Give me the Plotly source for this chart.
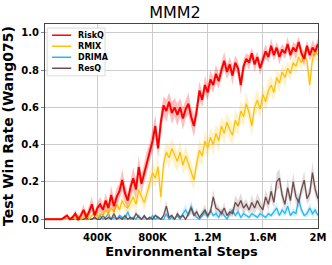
import plotly.graph_objects as go

steps = [20000 * (i + 1) for i in range(100)]

riskq = [0, 0, 0, 0, 0, 0, 0, 0.01, 0.02, 0.0,
         0.01, 0.03, 0.0, 0.02, 0.05, 0.01, 0.04, 0.08, 0.02, 0.06,
         0.08, 0.05, 0.1, 0.06, 0.13, 0.07, 0.12, 0.15, 0.21, 0.14,
         0.1, 0.17, 0.22, 0.16, 0.28, 0.19, 0.25, 0.31, 0.36, 0.42,
         0.5, 0.38, 0.52, 0.61, 0.58, 0.63, 0.57, 0.6, 0.56, 0.6,
         0.54, 0.59, 0.62, 0.55, 0.5, 0.58, 0.69, 0.64, 0.72, 0.68,
         0.75, 0.72, 0.78, 0.74, 0.8, 0.85, 0.79, 0.83, 0.77, 0.84,
         0.81, 0.72, 0.82, 0.86, 0.84, 0.89, 0.83, 0.87, 0.81, 0.86,
         0.9, 0.87, 0.93, 0.88, 0.92, 0.87, 0.91, 0.89, 0.94, 0.88,
         0.92, 0.9, 0.95, 0.89, 0.86, 0.93, 0.88, 0.92, 0.9, 0.94]
riskq_std = [0, 0, 0, 0, 0, 0, 0, 0.01, 0.01, 0.01,
             0.01, 0.02, 0.01, 0.02, 0.03, 0.02, 0.03, 0.04, 0.02, 0.03,
             0.04, 0.03, 0.04, 0.03, 0.05, 0.04, 0.05, 0.04, 0.06, 0.05,
             0.04, 0.05, 0.06, 0.05, 0.06, 0.05, 0.05, 0.06, 0.05, 0.06,
             0.06, 0.05, 0.06, 0.05, 0.06, 0.05, 0.06, 0.05, 0.06, 0.05,
             0.06, 0.05, 0.06, 0.05, 0.06, 0.05, 0.05, 0.04, 0.05, 0.04,
             0.05, 0.04, 0.05, 0.04, 0.04, 0.05, 0.04, 0.04, 0.05, 0.04,
             0.04, 0.05, 0.04, 0.03, 0.04, 0.03, 0.04, 0.03, 0.04, 0.03,
             0.04, 0.03, 0.04, 0.03, 0.03, 0.04, 0.03, 0.03, 0.04, 0.03,
             0.03, 0.04, 0.03, 0.03, 0.04, 0.03, 0.03, 0.04, 0.03, 0.03]

rmix = [0, 0, 0, 0, 0, 0, 0, 0, 0, 0,
        0.01, 0.0, 0.02, 0.0, 0.01, 0.03, 0.0, 0.02, 0.04, 0.01,
        0.03, 0.02, 0.05, 0.03, 0.06, 0.04, 0.08, 0.05, 0.1, 0.07,
        0.06, 0.09, 0.12, 0.08, 0.16, 0.12, 0.09, 0.14, 0.2, 0.25,
        0.22, 0.28, 0.12, 0.3, 0.36, 0.33, 0.38, 0.34, 0.31, 0.36,
        0.29, 0.34, 0.3, 0.25, 0.21, 0.3, 0.37, 0.34, 0.42, 0.38,
        0.44, 0.4, 0.46, 0.42, 0.5, 0.46, 0.52, 0.48, 0.45, 0.53,
        0.5, 0.58, 0.55, 0.62, 0.57, 0.5, 0.6, 0.64, 0.59, 0.67,
        0.63, 0.69, 0.72, 0.68, 0.76, 0.73, 0.79, 0.76, 0.81, 0.78,
        0.84, 0.82, 0.87, 0.84, 0.88, 0.85, 0.72, 0.86, 0.9, 0.88]
rmix_std = [0, 0, 0, 0, 0, 0, 0, 0, 0, 0,
            0.01, 0.0, 0.01, 0.0, 0.01, 0.02, 0.0, 0.01, 0.02, 0.01,
            0.02, 0.01, 0.03, 0.02, 0.03, 0.02, 0.04, 0.03, 0.04, 0.03,
            0.03, 0.04, 0.05, 0.04, 0.05, 0.04, 0.04, 0.05, 0.05, 0.06,
            0.05, 0.06, 0.05, 0.06, 0.05, 0.06, 0.05, 0.06, 0.05, 0.06,
            0.05, 0.06, 0.05, 0.06, 0.05, 0.05, 0.06, 0.05, 0.06, 0.05,
            0.05, 0.06, 0.05, 0.06, 0.05, 0.06, 0.05, 0.06, 0.05, 0.06,
            0.05, 0.06, 0.05, 0.06, 0.05, 0.06, 0.05, 0.06, 0.05, 0.05,
            0.05, 0.06, 0.05, 0.05, 0.04, 0.05, 0.04, 0.05, 0.04, 0.04,
            0.04, 0.05, 0.04, 0.04, 0.04, 0.05, 0.06, 0.04, 0.04, 0.04]

drima = [0, 0, 0, 0, 0, 0, 0, 0, 0, 0,
         0, 0, 0, 0, 0, 0, 0, 0, 0.01, 0.0,
         0.02, 0.0, 0.01, 0.03, 0.0, 0.01, 0.0, 0.02, 0.01, 0.0,
         0.04, 0.0, 0.01, 0.0, 0.02, 0.0, 0.01, 0.0, 0.0, 0.02,
         0.0, 0.01, 0.0, 0.0, 0.03, 0.0, 0.01, 0.0, 0.02, 0.0,
         0.03, 0.05, 0.02, 0.07, 0.03, 0.01, 0.0, 0.02, 0.04, 0.01,
         0.05, 0.02, 0.03, 0.01, 0.04, 0.02, 0.0, 0.03, 0.05, 0.02,
         0.04, 0.01, 0.03, 0.02, 0.01, 0.03, 0.02, 0.01, 0.03, 0.02,
         0.01, 0.03, 0.02, 0.04, 0.06, 0.02, 0.05, 0.03, 0.07, 0.02,
         0.04, 0.03, 0.11, 0.05, 0.02, 0.03, 0.06, 0.03, 0.05, 0.02]
drima_std = [0, 0, 0, 0, 0, 0, 0, 0, 0, 0,
             0, 0, 0, 0, 0, 0, 0, 0, 0.01, 0.0,
             0.01, 0.0, 0.01, 0.02, 0.0, 0.01, 0.0, 0.01, 0.01, 0.0,
             0.02, 0.0, 0.01, 0.0, 0.01, 0.0, 0.01, 0.0, 0.0, 0.01,
             0.0, 0.01, 0.0, 0.0, 0.02, 0.0, 0.01, 0.0, 0.01, 0.0,
             0.02, 0.03, 0.01, 0.03, 0.02, 0.01, 0.0, 0.01, 0.02, 0.01,
             0.02, 0.01, 0.02, 0.01, 0.02, 0.01, 0.0, 0.02, 0.02, 0.01,
             0.02, 0.01, 0.02, 0.01, 0.01, 0.02, 0.01, 0.01, 0.02, 0.01,
             0.01, 0.02, 0.01, 0.02, 0.03, 0.01, 0.02, 0.02, 0.03, 0.01,
             0.02, 0.02, 0.04, 0.02, 0.01, 0.02, 0.03, 0.02, 0.02, 0.01]

resq = [0, 0, 0, 0, 0, 0, 0, 0, 0, 0,
        0, 0, 0, 0, 0, 0.01, 0, 0, 0.01, 0,
        0.0, 0.02, 0.0, 0.01, 0.0, 0.03, 0.0, 0.01, 0.0, 0.02,
        0.0, 0.01, 0.0, 0.03, 0.01, 0.0, 0.02, 0.0, 0.01, 0.0,
        0.02, 0.01, 0.0, 0.02, 0.07, 0.01, 0.02, 0.0, 0.03, 0.01,
        0.02, 0.0, 0.03, 0.06, 0.02, 0.04, 0.01, 0.03, 0.05, 0.02,
        0.04, 0.12, 0.06, 0.05, 0.03, 0.06, 0.02, 0.04, 0.03, 0.09,
        0.07, 0.1, 0.06, 0.08, 0.05, 0.09, 0.06, 0.1, 0.07, 0.05,
        0.12, 0.08, 0.15, 0.09, 0.2, 0.22, 0.13, 0.08, 0.17, 0.1,
        0.2, 0.12, 0.09, 0.16, 0.21, 0.11, 0.14, 0.25, 0.16, 0.11]
resq_std = [0, 0, 0, 0, 0, 0, 0, 0, 0, 0,
            0, 0, 0, 0, 0, 0.01, 0, 0, 0.01, 0,
            0.0, 0.01, 0.0, 0.01, 0.0, 0.02, 0.0, 0.01, 0.0, 0.01,
            0.0, 0.01, 0.0, 0.02, 0.01, 0.0, 0.01, 0.0, 0.01, 0.0,
            0.01, 0.01, 0.0, 0.01, 0.03, 0.01, 0.01, 0.0, 0.02, 0.01,
            0.01, 0.0, 0.02, 0.03, 0.01, 0.02, 0.01, 0.02, 0.03, 0.01,
            0.02, 0.04, 0.03, 0.02, 0.02, 0.03, 0.01, 0.02, 0.02, 0.04,
            0.03, 0.04, 0.03, 0.03, 0.02, 0.04, 0.03, 0.04, 0.03, 0.02,
            0.04, 0.03, 0.05, 0.03, 0.05, 0.05, 0.04, 0.03, 0.05, 0.03,
            0.05, 0.04, 0.03, 0.04, 0.05, 0.03, 0.04, 0.06, 0.04, 0.03]

x_tick_vals = [400000, 800000, 1200000, 1600000, 2000000]
x_tick_text = ["400K", "800K", "1.2M", "1.6M", "2M"]
y_tick_vals = [0.0, 0.2, 0.4, 0.6, 0.8, 1.0]
y_tick_text = ["0.0", "0.2", "0.4", "0.6", "0.8", "1.0"]

legend_names = ["RiskQ", "RMIX", "DRIMA", "ResQ"]

# (name, values, std, line colour, band colour, line width)
series = [
    ("DRIMA", drima, drima_std, "#29B6F6", "rgba(41,182,246,0.22)", 1.3),
    ("ResQ", resq, resq_std, "#6D4C4C", "rgba(109,76,76,0.2)", 1.3),
    ("RMIX", rmix, rmix_std, "#FFC107", "rgba(255,193,7,0.22)", 1.3),
    ("RiskQ", riskq, riskq_std, "#FF0000", "rgba(255,0,0,0.25)", 2.0),
]
colors = {s[0]: s[3] for s in series}

fig = go.Figure()
for name, vals, std, col, fillcol, lw in series:
    upper = [v + s for v, s in zip(vals, std)]
    lower = [v - s for v, s in zip(vals, std)]
    fig.add_trace(go.Scatter(x=steps, y=upper, mode="lines", line=dict(width=0),
                             showlegend=False, hoverinfo="skip"))
    fig.add_trace(go.Scatter(x=steps, y=lower, mode="lines", line=dict(width=0),
                             fill="tonexty", fillcolor=fillcol, showlegend=False,
                             hoverinfo="skip"))
    fig.add_trace(go.Scatter(x=steps, y=vals, mode="lines", name=name,
                             line=dict(color=col, width=lw), showlegend=False))

font_family = "DejaVu Sans"

# compact legend box (paper coordinates), matplotlib style
lg_x0, lg_x1 = 0.008, 0.22
lg_top, lg_row = 0.98, 0.054
shapes = [dict(type="rect", xref="paper", yref="paper",
               x0=lg_x0, x1=lg_x1, y0=lg_top - lg_row * len(legend_names) - 0.018, y1=lg_top,
               line=dict(color="#d9d9d9", width=1), fillcolor="rgba(255,255,255,0.85)",
               layer="above")]
annotations = []
for k, nm in enumerate(legend_names):
    yk = lg_top - 0.035 - k * lg_row
    shapes.append(dict(type="line", xref="paper", yref="paper",
                       x0=lg_x0 + 0.018, x1=lg_x0 + 0.088, y0=yk, y1=yk,
                       line=dict(color=colors[nm], width=1.5), layer="above"))
    annotations.append(dict(xref="paper", yref="paper", x=lg_x0 + 0.105, y=yk,
                            xanchor="left", yanchor="middle", showarrow=False,
                            text="<b>" + nm + "</b>",
                            font=dict(size=8, family=font_family, color="black")))

fig.update_layout(
    width=332, height=265,
    margin=dict(l=45, r=14, t=24, b=37),
    paper_bgcolor="white", plot_bgcolor="white",
    font=dict(family=font_family, color="black"),
    title=dict(text="MMM2", x=0.527, xanchor="center", y=0.955, yanchor="middle",
               font=dict(size=16, family=font_family, color="black")),
    showlegend=False,
    shapes=shapes,
    annotations=annotations,
)
fig.update_xaxes(
    range=[20000, 2000000], tickvals=x_tick_vals, ticktext=x_tick_text,
    showgrid=True, gridcolor="#cccccc", gridwidth=1,
    showline=True, linecolor="#444444", linewidth=1, mirror=True,
    ticks="", zeroline=False, automargin=False,
    tickfont=dict(size=10, family=font_family, color="black", weight="bold"),
    title=dict(text="<b>Environmental Steps</b>", font=dict(size=13, family=font_family),
               standoff=4),
)
fig.update_yaxes(
    range=[-0.047, 1.047], tickvals=y_tick_vals, ticktext=y_tick_text,
    showgrid=True, gridcolor="#cccccc", gridwidth=1,
    showline=True, linecolor="#444444", linewidth=1, mirror=True,
    ticks="outside", ticklen=3, tickcolor="#888888", zeroline=False, automargin=False,
    tickfont=dict(size=10, family=font_family, color="black", weight="bold"),
    title=dict(text="<b>Test Win Rate (Wang075)</b>", font=dict(size=14, family=font_family),
               standoff=4),
)

fig.write_html("out.html", config={"displayModeBar": False},
               post_script="document.body.style.margin='0';document.body.style.padding='0';")
